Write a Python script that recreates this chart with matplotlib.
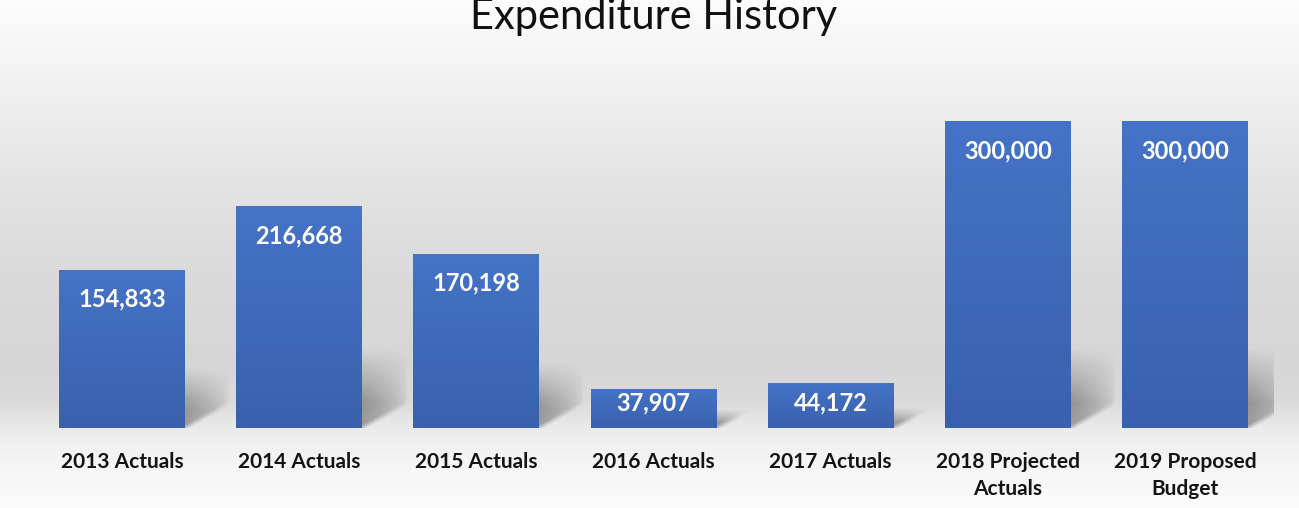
import numpy as np
import matplotlib
matplotlib.use("Agg")
import matplotlib.pyplot as plt
from matplotlib.colors import to_rgb

plt.rcParams['font.family'] = ['Lato', 'DejaVu Sans']

# ---- data ----
categories = ["2013 Actuals", "2014 Actuals", "2015 Actuals", "2016 Actuals",
              "2017 Actuals", "2018 Projected\nActuals", "2019 Proposed\nBudget"]
values = [154833, 216668, 170198, 37907, 44172, 300000, 300000]
value_labels = [f"{v:,}" for v in values]
title = "Expenditure History"

# ---- figure ----
W_PX, H_PX, DPI = 1299, 508, 100
fig = plt.figure(figsize=(W_PX / DPI, H_PX / DPI), dpi=DPI)

# soft grey vertical gradient behind everything
bg = fig.add_axes([0, 0, 1, 1], zorder=0)
stops_y = [0, 50, 120, 200, 280, 360, 400, 430, 460, 508]
stops_v = [0.988, 0.965, 0.925, 0.885, 0.855, 0.84, 0.855, 0.925, 0.96, 0.985]
g = np.interp(np.arange(H_PX), stops_y, stops_v)
bg.imshow(np.dstack([np.repeat(g[:, None], 2, axis=1)] * 3), aspect='auto',
          extent=[0, 1, 0, 1], origin='upper', interpolation='bilinear')
bg.set_xlim(0, 1)
bg.set_ylim(0, 1)
bg.axis('off')

# plotting area
ax_left, ax_right = 33.5, 1273.6
ax_bottom_px, ax_top_px = 428, 80
ymax = 340000
ax = fig.add_axes([ax_left / W_PX, (H_PX - ax_bottom_px) / H_PX,
                   (ax_right - ax_left) / W_PX, (ax_bottom_px - ax_top_px) / H_PX],
                  zorder=1)
ax.patch.set_alpha(0)
x = np.arange(len(categories))
xmin, xmax = -0.5, len(categories) - 0.5

ppu_y = (ax_bottom_px - ax_top_px) / ymax            # pixels per value unit
ppu_x = (ax_right - ax_left) / (xmax - xmin)         # pixels per category unit

bar_w = 0.711
bars = ax.bar(x, values, width=bar_w, color='#3f6bbb', zorder=3, linewidth=0)

# vertical gradient fill inside each bar
top_c, bot_c = np.array(to_rgb('#4573c6')), np.array(to_rgb('#3961ad'))
grad = np.linspace(0, 1, 256)[:, None, None]
grad_img = top_c * (1 - grad) + bot_c * grad
for p in bars.patches:
    x0, y0, w, h = p.get_x(), p.get_y(), p.get_width(), p.get_height()
    im = ax.imshow(grad_img, extent=(x0, x0 + w, y0, y0 + h), origin='upper',
                   aspect='auto', interpolation='bilinear', zorder=3.5)
    im.set_clip_path(p)

# perspective drop shadow to the right of each bar
SH_W, SH_SLOPE = 45.0, 0.55
for p in bars.patches:
    xr = p.get_x() + p.get_width()
    h_px = p.get_height() * ppu_y
    hs = min(0.35 * h_px + 5, 80.0)
    nx, ny = 60, 100
    dx = np.linspace(0, SH_W, nx)[None, :]
    dy = np.linspace(hs, 0, ny)[:, None]
    edge = np.clip((dy - SH_SLOPE * dx) / 6.0 + 0.5, 0, 1)
    fv = np.clip((hs - dy) / (0.7 * hs), 0, 1)
    fh = np.clip(1 - dx / SH_W, 0, 1) ** 0.6
    alpha = 0.33 * edge * fv * fh
    rgba = np.zeros((ny, nx, 4))
    rgba[..., 3] = alpha
    ax.imshow(rgba, extent=(xr, xr + SH_W / ppu_x, 0, hs / ppu_y), origin='upper',
              aspect='auto', interpolation='bilinear', zorder=2)

# value labels near the top of each bar
for xi, v, lab in zip(x, values, value_labels):
    yb = max(v - 37 / ppu_y, 18 / ppu_y)
    ax.text(xi, yb, lab, ha='center', va='baseline', color='white',
            fontsize=17, fontweight='bold', zorder=5)

ax.set_xlim(xmin, xmax)
ax.set_ylim(0, ymax)
ax.set_xticks(x, categories, fontsize=15, fontweight='bold', color='#141414',
              linespacing=1.45)
ax.tick_params(axis='x', length=0, pad=17)
ax.set_yticks([])
for s in ax.spines.values():
    s.set_visible(False)

fig.text(654 / W_PX, 1 - 29 / H_PX, title, ha='center', va='baseline',
         fontsize=30, color='#111111')

fig.savefig('out.png', dpi=DPI)
